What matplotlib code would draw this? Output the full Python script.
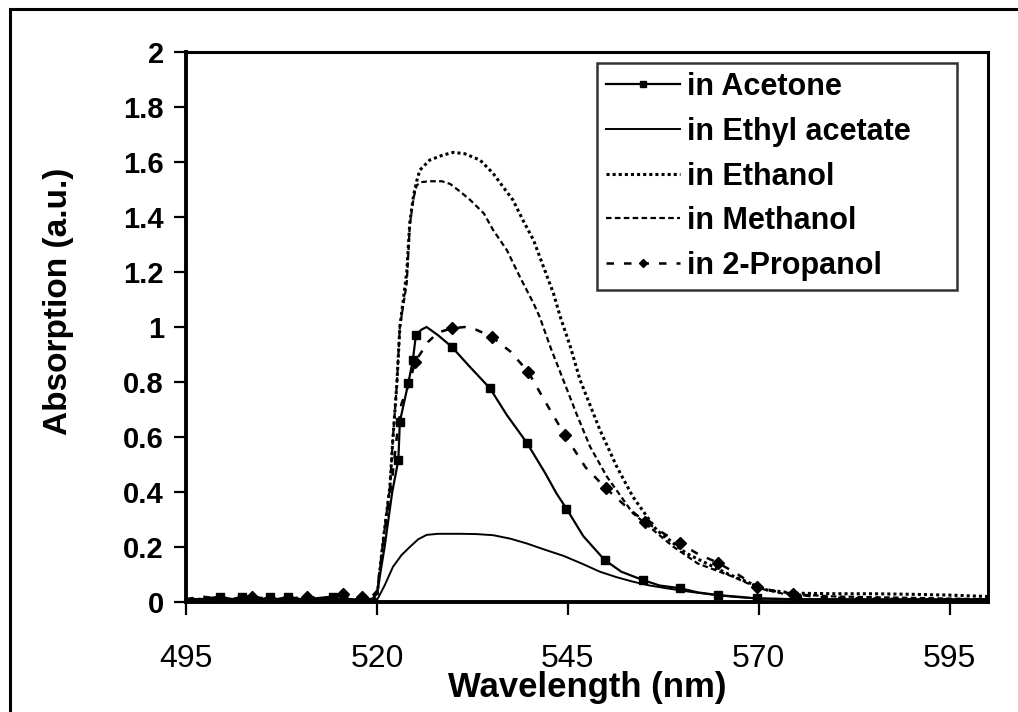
import matplotlib
matplotlib.use("Agg")
import matplotlib.pyplot as plt
from matplotlib.patches import Rectangle
import numpy as np

# ---------------- data ----------------
series_names = ["in Acetone", "in Ethyl acetate", "in Ethanol", "in Methanol", "in 2-Propanol"]

acetone_x = [495, 497, 499.5, 501, 502.3, 503.6, 505, 506, 507, 508.3, 510, 511, 512.5, 514.2, 515.5,
             516.5, 518, 519, 520, 521, 522, 522.8, 523, 524.1, 524.7, 525.1, 525.8, 526.5, 528, 529.8,
             532, 534.8, 537, 539.6, 542, 543.5, 544.8, 547, 549.8, 552, 554.8, 557, 559.7, 562, 564.7,
             567, 569.7, 575, 580, 585, 590, 595, 600]
acetone_y = [0.01, 0.01, 0.02, 0.01, 0.02, 0.02, 0.01, 0.02, 0.01, 0.02, 0.01, 0.01, 0.015, 0.02, 0.02,
             0.01, 0.0, 0.0, 0.03, 0.2, 0.4, 0.516, 0.656, 0.795, 0.88, 0.97, 0.99, 1.0, 0.97, 0.928,
             0.86, 0.777, 0.68, 0.58, 0.47, 0.395, 0.34, 0.24, 0.153, 0.11, 0.08, 0.06, 0.05, 0.035, 0.025,
             0.02, 0.013, 0.01, 0.01, 0.01, 0.01, 0.01, 0.01]

ethyl_x = [495, 500, 505, 510, 515, 518, 519.5, 520, 521, 522.1, 523.2, 524.3, 525.4, 526.5, 528, 530.9,
           533, 535.2, 537.5, 539.6, 542, 544.4, 546.8, 549.2, 551.4, 553.5, 555.7, 557.9, 561, 564.4,
           567, 569.7, 575, 585, 600]
ethyl_y = [0.01, 0.01, 0.01, 0.01, 0.01, 0.01, 0.0, 0.007, 0.06, 0.128, 0.17, 0.2, 0.228, 0.244, 0.248, 0.248,
           0.247, 0.243, 0.23, 0.213, 0.19, 0.168, 0.14, 0.11, 0.09, 0.074, 0.06, 0.05, 0.037, 0.025,
           0.018, 0.013, 0.01, 0.008, 0.005]

ethanol_x = [495, 500, 505, 510, 515, 518, 519.5, 520, 520.8, 521.7, 522.1, 522.6, 523.0, 523.9, 524.3,
             524.8, 525.2, 525.6, 526.9, 528.6, 530, 531.5, 533.5, 535.2, 536.5, 537.8, 539.1, 540.5,
             541.8, 543.1, 544, 545.3, 546.6, 549.2, 551.4, 553.5, 556.6, 560.5, 565.8, 571, 574.5,
             580, 585, 590, 595, 600]
ethanol_y = [0.01, 0.01, 0.01, 0.01, 0.01, 0.005, 0.0, 0.02, 0.22, 0.42, 0.6, 0.79, 1.0, 1.2, 1.38,
             1.48, 1.53, 1.57, 1.607, 1.625, 1.635, 1.63, 1.607, 1.559, 1.51, 1.462, 1.389, 1.316,
             1.219, 1.123, 1.037, 0.93, 0.807, 0.625, 0.492, 0.383, 0.262, 0.177, 0.104, 0.044, 0.032,
             0.03, 0.03, 0.028, 0.025, 0.02]

methanol_x = [495, 500, 505, 510, 515, 518, 519.5, 520, 520.8, 521.7, 522.1, 522.6, 523, 523.9, 524.3,
              524.8, 525.2, 525.8, 527, 528.5, 529.6, 531, 532.2, 534, 535.2, 537, 538.7, 540.5, 541.3,
              542.8, 544.4, 546.1, 547.9, 550.1, 553.5, 558.8, 562, 566.6, 570, 573.2, 580, 590, 600]
methanol_y = [0.01, 0.01, 0.01, 0.01, 0.01, 0.01, 0.0, 0.02, 0.22, 0.42, 0.6, 0.79, 1.0, 1.16, 1.37,
              1.47, 1.515, 1.527, 1.53, 1.53, 1.52, 1.49, 1.462, 1.413, 1.353, 1.28, 1.183, 1.086, 1.037,
              0.92, 0.807, 0.686, 0.565, 0.456, 0.323, 0.201, 0.14, 0.092, 0.05, 0.03, 0.02, 0.015, 0.01]

propanol_x = [495, 497, 500, 503.6, 506, 508, 510.8, 513, 515.5, 517, 518, 519, 520, 521, 522, 522.6,
              523.2, 524.2, 525, 526.7, 528, 529.8, 531.5, 533, 535, 537.5, 539.8, 542, 544.6, 547.3,
              550, 552.5, 555.1, 557.5, 559.7, 562, 564.6, 567, 569.7, 572, 574.5, 577, 580, 590, 600]
propanol_y = [0.01, 0.02, 0.01, 0.02, 0.01, 0.01, 0.02, 0.01, 0.03, 0.01, 0.02, 0.01, 0.04, 0.25, 0.45, 0.6,
              0.72, 0.793, 0.874, 0.946, 0.98, 0.995, 1.0, 0.99, 0.965, 0.91, 0.837, 0.73, 0.607, 0.49,
              0.413, 0.35, 0.292, 0.25, 0.213, 0.175, 0.143, 0.105, 0.056, 0.04, 0.03, 0.02, 0.015, 0.01, 0.01]

x_ticks = [495, 520, 545, 570, 595]
y_ticks = [0, 0.2, 0.4, 0.6, 0.8, 1, 1.2, 1.4, 1.6, 1.8, 2]
y_tick_labels = ["0", "0.2", "0.4", "0.6", "0.8", "1", "1.2", "1.4", "1.6", "1.8", "2"]
x_label = "Wavelength (nm)"
y_label = "Absorption (a.u.)"

# ---------------- figure ----------------
plt.rcParams['font.family'] = ['Liberation Sans', 'DejaVu Sans']
W, H = 1018, 712
fig = plt.figure(figsize=(W / 100, H / 100), dpi=100)
fig.patch.set_facecolor("white")

# outer frame
fig.add_artist(Rectangle((10 / W, -0.1), 1.2, 1 - 9 / H + 0.1, transform=fig.transFigure,
                         fill=False, edgecolor="black", linewidth=2.2))

ax = fig.add_axes([186 / W, (H - 602) / H, 802 / W, 550 / H])


def mark_mask(xs, marks):
    return [any(abs(x - m) < 1e-6 for m in marks) for x in xs]


ac_marks = [499.5, 502.3, 506, 508.3, 514.2, 519, 522.8, 523, 524.1, 524.7, 525.1, 529.8, 534.8, 539.6,
            544.8, 549.8, 554.8, 559.7, 564.7, 569.7, 575]
pr_marks = [503.6, 510.8, 515.5, 518, 525, 529.8, 535, 539.8, 544.6, 550, 555.1, 559.7, 564.6, 569.7,
            574.5]

ax.plot(acetone_x, acetone_y, color="black", lw=1.6, marker="s", ms=5.5,
        markevery=mark_mask(acetone_x, ac_marks), label=series_names[0])
ax.plot(ethyl_x, ethyl_y, color="black", lw=1.4, label=series_names[1])
ax.plot(ethanol_x, ethanol_y, color="black", lw=2.2, ls=(0, (1, 1)), label=series_names[2])
ax.plot(methanol_x, methanol_y, color="black", lw=1.6, ls=(0, (2.5, 1.5)), label=series_names[3])
ax.plot(propanol_x, propanol_y, color="black", lw=1.8, ls=(0, (3, 4)), marker="D", ms=6,
        markevery=mark_mask(propanol_x, pr_marks), label=series_names[4])

ax.set_xlim(495, 600)
ax.set_ylim(0, 2)
ax.set_xticks(x_ticks)
ax.set_yticks(y_ticks)
ax.set_yticklabels(y_tick_labels)

for s in ax.spines.values():
    s.set_linewidth(2.2)
ax.spines["left"].set_linewidth(2.8)
ax.spines["bottom"].set_linewidth(2.8)

ax.tick_params(axis="both", direction="out", length=9, width=1.6, color="black")
ax.tick_params(axis="y", pad=7, labelsize=21)
ax.tick_params(axis="x", pad=21, labelsize=23)
for t in ax.get_yticklabels():
    t.set_fontweight("bold")

ax.set_xlabel(x_label, fontsize=25, fontweight="bold", labelpad=-2)
ax.set_ylabel(y_label, fontsize=24, fontweight="bold")
ax.yaxis.set_label_coords(-0.14, 0.547)

leg = ax.legend(loc="upper left", bbox_to_anchor=(0.5125, 0.571, 0.4485, 0.409), mode="expand",
                frameon=True, fancybox=False,
                prop={"weight": "bold", "size": 22}, handlelength=2.4,
                handletextpad=0.25, labelspacing=0.48, borderpad=0.3, borderaxespad=0.0,
                markerscale=0.7)
leg.get_frame().set_edgecolor("black")
leg.get_frame().set_linewidth(1.8)

fig.savefig("out.png", dpi=100, facecolor="white")
